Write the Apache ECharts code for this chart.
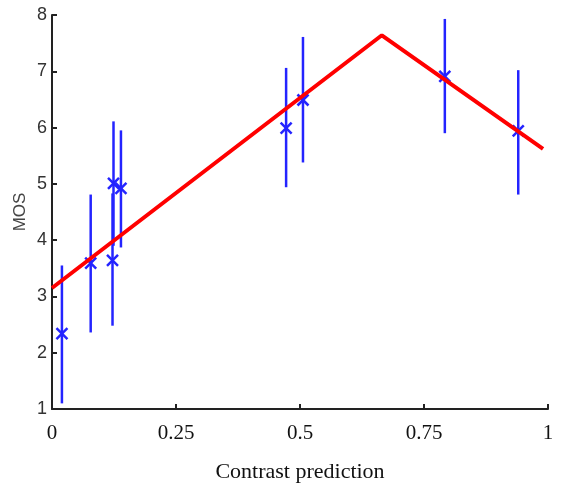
<!DOCTYPE html>
<html>
<head>
<meta charset="utf-8">
<script src="https://cdn.jsdelivr.net/npm/echarts@6/dist/echarts.min.js"></script>
<style>
  html, body { margin: 0; padding: 0; background: #fff; }
  #main { width: 562px; height: 493px; }
</style>
</head>
<body>
<div id="main"></div>
<script>
// measured points (contrast prediction vs MOS with error bars)
var xPred = [0.02, 0.078, 0.122, 0.124, 0.139, 0.472, 0.506, 0.792, 0.94];
var mos = [2.34, 3.59, 3.64, 5.01, 4.92, 5.99, 6.49, 6.91, 5.94];
var mosUpper = [3.55, 4.81, 4.83, 6.11, 5.95, 7.06, 7.61, 7.93, 7.02];
var mosLower = [1.1, 2.36, 2.48, 3.9, 3.87, 4.94, 5.38, 5.9, 4.81];

// fitted piecewise line
var fitX = [0, 0.665, 0.99];
var fitY = [3.15, 7.64, 5.62];

var xTicks = [0, 0.25, 0.5, 0.75, 1];

var chart = echarts.init(document.getElementById('main'));

var errData = xPred.map(function (x, i) {
  return [x, mos[i], mosLower[i], mosUpper[i]];
});

chart.setOption({
  animation: false,
  grid: { left: 52, right: 14, top: 15, bottom: 84, outerBoundsMode: 'none' },
  xAxis: {
    type: 'value',
    min: 0, max: 1, interval: 0.25,
    name: 'Contrast prediction',
    nameLocation: 'middle',
    nameGap: 52,
    nameMoveOverlap: false,
    nameTextStyle: { fontFamily: 'Liberation Serif', fontSize: 22, color: '#111' },
    axisLine: { lineStyle: { color: '#222', width: 2 } },
    axisTick: { inside: true, length: 5, lineStyle: { color: '#222', width: 2 } },
    axisLabel: {
      fontFamily: 'Liberation Serif', fontSize: 21, color: '#111', margin: 14,
      formatter: function (v) { return xTicks.indexOf(v) >= 0 ? String(v) : ''; }
    },
    splitLine: { show: false }
  },
  yAxis: {
    type: 'value',
    min: 1, max: 8, interval: 1,
    name: 'MOS',
    nameLocation: 'middle',
    nameGap: 23,
    nameMoveOverlap: false,
    nameRotate: 90,
    nameTextStyle: { fontFamily: 'Liberation Sans', fontSize: 17, color: '#444' },
    axisLine: { lineStyle: { color: '#222', width: 2 } },
    axisTick: { inside: true, length: 5, lineStyle: { color: '#222', width: 2 } },
    axisLabel: { fontFamily: 'Liberation Sans', fontSize: 18, color: '#333', margin: 5 },
    splitLine: { show: false }
  },
  series: [
    {
      type: 'custom',
      z: 2,
      data: errData,
      renderItem: function (params, api) {
        var p = api.coord([api.value(0), api.value(1)]);
        var lo = api.coord([api.value(0), api.value(2)]);
        var hi = api.coord([api.value(0), api.value(3)]);
        var s = 5.5;
        var st = { stroke: '#2424ff', lineWidth: 2.5 };
        return {
          type: 'group',
          children: [
            { type: 'line', shape: { x1: lo[0], y1: lo[1], x2: hi[0], y2: hi[1] }, style: st },
            { type: 'line', shape: { x1: p[0] - s, y1: p[1] - s, x2: p[0] + s, y2: p[1] + s }, style: st },
            { type: 'line', shape: { x1: p[0] - s, y1: p[1] + s, x2: p[0] + s, y2: p[1] - s }, style: st }
          ]
        };
      }
    },
    {
      type: 'line',
      z: 3,
      data: fitX.map(function (x, i) { return [x, fitY[i]]; }),
      showSymbol: false,
      lineStyle: { color: '#ff0000', width: 4 }
    }
  ]
});
</script>
</body>
</html>
